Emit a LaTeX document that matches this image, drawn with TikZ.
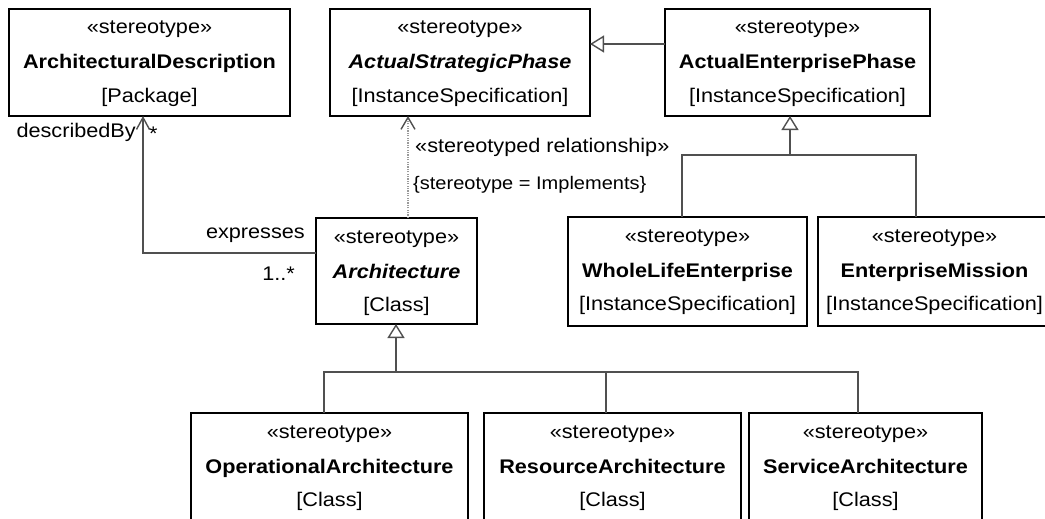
\documentclass[tikz,border=0pt]{standalone}
\usepackage{fontspec}
\setmainfont{Liberation Sans}[FakeStretch=1.1]
\usetikzlibrary{arrows.meta}
\definecolor{lc}{HTML}{505050}
\definecolor{dc}{HTML}{9A9A9A}
\tikzset{
 box/.style={draw=black, line width=1.8pt, inner sep=0pt, outer sep=0pt, fill=white},
 txt/.style={anchor=base, inner sep=0pt, font=\fontsize{19.7}{23}\selectfont},
 lbl/.style={inner sep=0pt, font=\fontsize{19.7}{23}\selectfont},
 smalllbl/.style={inner sep=0pt, font=\fontsize{18.2}{21}\selectfont},
 conn/.style={draw=lc, line width=1.4pt},
 gentip/.style={conn, -{Triangle[length=14pt,width=17pt,fill=white,line width=1.4pt]}},
 assoc/.style={conn, -{Straight Barb[length=12pt,width=13pt,line width=1.4pt]}},
 realize/.style={draw=dc, line width=1.2pt, dash pattern=on 1.2pt off 1.2pt, -{Straight Barb[length=12pt,width=14pt,line width=1.4pt,color=lc]}},
}
\newcommand\umlbox[8]{%
 \node[box, minimum width={#4-#2}, minimum height={#5-#3}] (#1) at ({(#2+#4)/2},{(#3+#5)/2}) {};
 \node[txt] (#1-a) at ({(#2+#4)/2},{#3+25}) {#6};
 \node[txt] (#1-b) at ({(#2+#4)/2},{#3+60}) {#7};
 \node[txt] (#1-c) at ({(#2+#4)/2},{#3+93.5}) {#8};
}
\begin{document}
\begin{tikzpicture}[x=1pt,y=-1pt]
\useasboundingbox (0,0) rectangle (1045,519);
\clip (0,0) rectangle (1045,519);
\fill[white] (0,0) rectangle (1045,519);
\umlbox{ad}{9}{9}{290}{116}{«stereotype»}{\textbf{ArchitecturalDescription}}{[Package]}
\umlbox{asp}{330}{9}{590}{116}{«stereotype»}{\textbf{\textit{ActualStrategicPhase}}}{[InstanceSpecification]}
\umlbox{aep}{665}{9}{930}{116}{«stereotype»}{\textbf{ActualEnterprisePhase}}{[InstanceSpecification]}
\umlbox{arch}{316}{218}{477}{324}{«stereotype»}{\textbf{\textit{Architecture}}}{[Class]}
\umlbox{wle}{568}{217}{807}{326}{«stereotype»}{\textbf{WholeLifeEnterprise}}{[InstanceSpecification]}
\umlbox{em}{818}{217}{1051}{326}{«stereotype»}{\textbf{EnterpriseMission}}{[InstanceSpecification]}
\umlbox{oa}{191}{413}{468}{522}{«stereotype»}{\textbf{OperationalArchitecture}}{[Class]}
\umlbox{ra}{484}{413}{741}{522}{«stereotype»}{\textbf{ResourceArchitecture}}{[Class]}
\umlbox{sa}{749}{413}{982}{522}{«stereotype»}{\textbf{ServiceArchitecture}}{[Class]}

% generalization AEP -> ASP
\coordinate (g1) at (0,44);
\draw[gentip] (aep.west |- g1) -- (asp.east |- g1);

% generalization tree to AEP
\coordinate (b1) at (790,155);
\draw[conn] ([xshift=-5.5pt]wle.north) |- (b1) -| ([xshift=-18.5pt]em.north);
\draw[gentip] (b1) -- (aep.south -| b1);

% generalization tree to Architecture
\coordinate (b2) at (396,372);
\draw[conn] ([xshift=-5.5pt]oa.north) |- (b2) -| ([xshift=-7.5pt]sa.north);
\draw[conn] ([xshift=-6.5pt]ra.north) -- ([xshift=-6.5pt]ra.north |- b2);
\draw[gentip] (b2) -- (arch.south -| b2);

% stereotyped relationship
\coordinate (d1) at (408,0);
\draw[realize] (arch.north -| d1) -- (asp.south -| d1);
\node[lbl, anchor=base west] (srl) at (415,152) {«stereotyped relationship»};
\node[smalllbl, anchor=base west] (sil) at (413,189) {\{stereotype = Implements\}};

% association
\coordinate (ac) at (143,253);
\draw[assoc] (arch.west |- ac) -- (ac) -- (ad.south -| ac);
\node[lbl, anchor=base east] (dby) at (136,137) {describedBy};
\node[lbl, anchor=base west] (dst) at (149,140) {*};
\node[lbl, anchor=base east] (exl) at (305,238) {expresses};
\node[lbl, anchor=base east] (mul) at (295,280) {1..*};
\end{tikzpicture}
\end{document}
